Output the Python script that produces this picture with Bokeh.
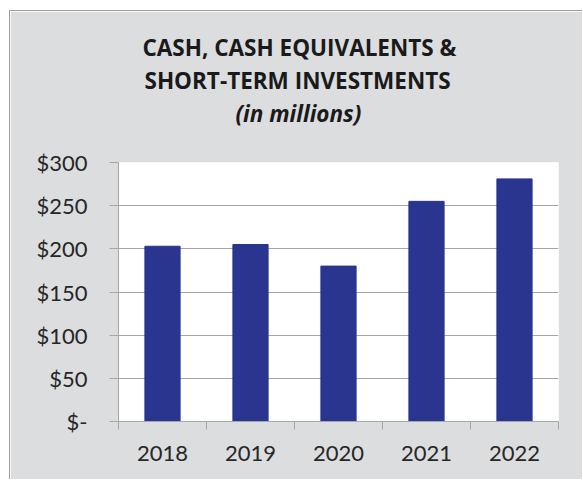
from bokeh.plotting import figure
from bokeh.models import FixedTicker, Title, Range1d
from bokeh.embed import file_html
from bokeh.resources import INLINE

years = ["2018", "2019", "2020", "2021", "2022"]
values = [203, 205, 180, 255, 281]
y_ticks = [0, 50, 100, 150, 200, 250, 300]
y_labels = ["$-", "$50", "$100", "$150", "$200", "$250", "$300"]
title_lines = ["CASH, CASH EQUIVALENTS &", "SHORT-TERM INVESTMENTS", "(in millions)"]

n = len(years)
xpos = [i + 0.5 for i in range(n)]

GRID = "#A6A6A6"
BAR = "#29358F"
BG = "#DCDDDF"
TXT = "#262626"
FONT = "Lato"
TFONT = "Open Sans"

p = figure(width=573, height=469, x_range=Range1d(0, n), y_range=Range1d(0, 300),
           output_backend="svg", toolbar_location=None,
           min_border_left=108, min_border_right=25, min_border_top=151, min_border_bottom=59,
           background_fill_color="white", border_fill_color=BG, outline_line_color=None)
p.styles = {"margin-left": "9px", "margin-top": "10px",
            "border-left": "1px solid #A0A0A0", "border-top": "1px solid #A0A0A0"}

p.vbar(x=xpos, top=values, width=0.4, color=BAR)

# x axis
p.xaxis.ticker = FixedTicker(ticks=xpos, minor_ticks=list(range(n + 1)))
p.xaxis.major_label_overrides = {x: y for x, y in zip(xpos, years)}
p.xaxis.major_tick_out = 0
p.xaxis.major_tick_in = 0
p.xaxis.minor_tick_out = 8
p.xaxis.minor_tick_in = 0
p.xaxis.minor_tick_line_color = GRID
p.xaxis.axis_line_color = GRID
p.xaxis.major_label_standoff = 16
p.xaxis.major_label_text_font = FONT
p.xaxis.major_label_text_font_size = "22px"
p.xaxis.major_label_text_color = TXT

# y axis
p.yaxis.ticker = FixedTicker(ticks=y_ticks, minor_ticks=[])
p.yaxis.major_label_overrides = {t: l for t, l in zip(y_ticks, y_labels)}
p.yaxis.major_tick_out = 9
p.yaxis.major_tick_in = 0
p.yaxis.major_tick_line_color = GRID
p.yaxis.axis_line_color = GRID
p.yaxis.major_label_standoff = 22
p.yaxis.major_label_text_font = FONT
p.yaxis.major_label_text_font_size = "22px"
p.yaxis.major_label_text_color = TXT

p.xgrid.visible = False
p.ygrid.grid_line_color = GRID
p.ygrid.grid_line_width = 1

# spacer between title block and frame
p.add_layout(Title(text=" ", text_font_size="12px", standoff=18), "above")
offsets = [24, 26, 117]
styles = ["bold", "bold", "bold italic"]
for txt, off, st in reversed(list(zip(title_lines, offsets, styles))):
    p.add_layout(Title(text=txt, align="left", offset=off, text_font=TFONT, text_font_style=st,
                       text_font_size="22.5px", text_color="#1A1A1A", standoff=0), "above")

open("out.html", "w").write(file_html(p, INLINE))
